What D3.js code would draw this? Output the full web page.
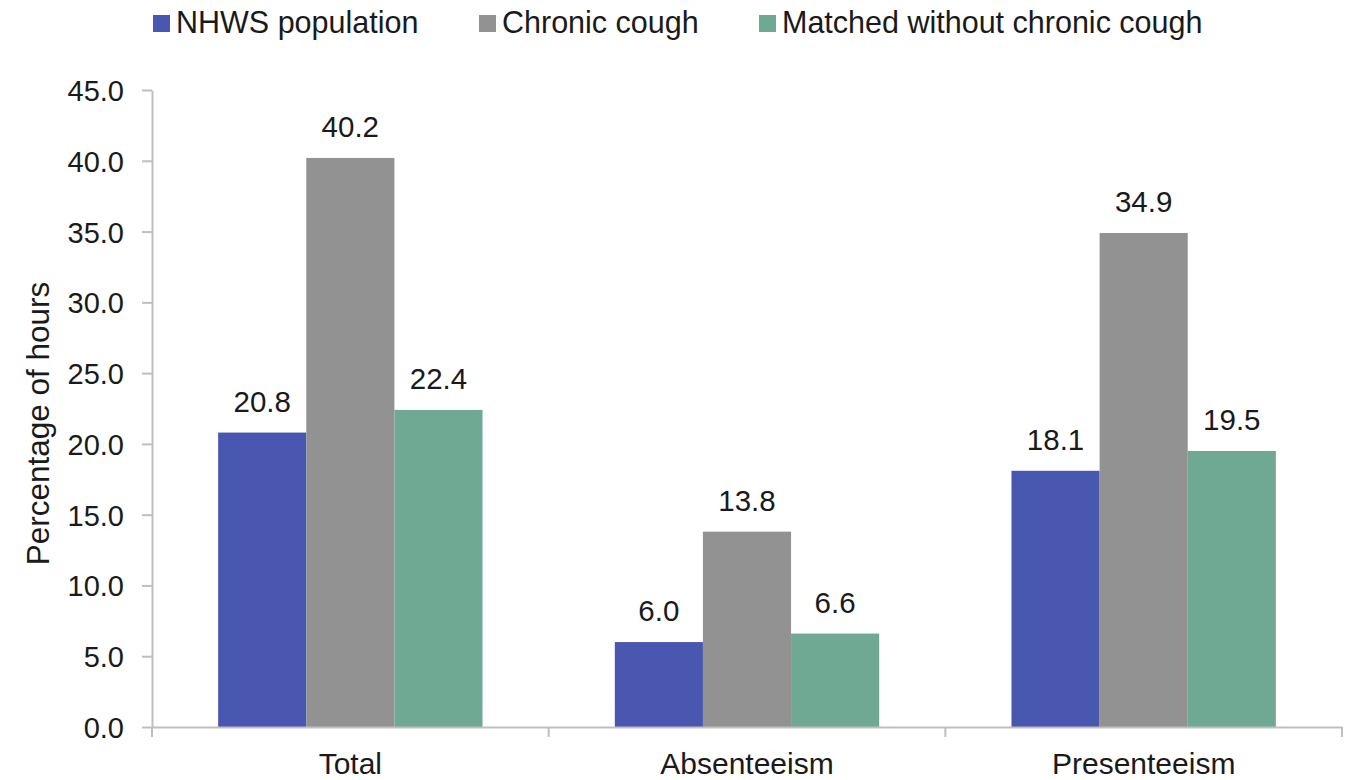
<!DOCTYPE html>
<html>
<head>
<meta charset="utf-8">
<script src="https://cdn.jsdelivr.net/npm/d3@7"></script>
<style>
    body { margin: 0; background: #fff; }
    svg { display: block; font-family: "Liberation Sans", Arial, sans-serif; }
    .axis path, .axis line { stroke: #bfbfbf; stroke-width: 2; }
    .axis text { fill: #1a1a1a; font-size: 29px; }
    .x-axis text { font-size: 30px; }
</style>
</head>
<body>
<div id="chart"></div>
<script>
// data
const categories = ['Total', 'Absenteeism', 'Presenteeism'];
const seriesNames = ['NHWS population', 'Chronic cough', 'Matched without chronic cough'];
const nhwsValues = [20.8, 6.0, 18.1];
const coughValues = [40.2, 13.8, 34.9];
const matchedValues = [22.4, 6.6, 19.5];
const yTicks = [0, 5, 10, 15, 20, 25, 30, 35, 40, 45];
const colors = ['#4957b1', '#929292', '#6fa893'];

const width = 1347;
const height = 780;

const svg = d3.select('#chart')
    .append('svg')
    .attr('width', width)
    .attr('height', height);

// scales
const x = d3.scaleBand()
    .domain(categories)
    .range([152, 1342])
    .paddingInner(0.3335)
    .paddingOuter(0.3335 / 2);

const x1 = d3.scaleBand()
    .domain(seriesNames)
    .range([0, x.bandwidth()]);

const y = d3.scaleLinear()
    .domain([0, 45])
    .range([727, 90]);

// y axis
const yAxis = d3.axisLeft(y)
    .tickValues(yTicks)
    .tickFormat(d3.format('.1f'))
    .tickSize(10)
    .tickSizeOuter(0)
    .tickPadding(18);

svg.append('g')
    .attr('class', 'axis y-axis')
    .attr('transform', 'translate(152,0)')
    .call(yAxis)
    .call(g => g.selectAll('text').attr('dy', '0.36em'));

svg.append('text')
    .attr('transform', `translate(49, ${y(22.5) + 15}) rotate(-90)`)
    .attr('text-anchor', 'middle')
    .attr('font-size', 31.5)
    .attr('fill', '#1a1a1a')
    .text('Percentage of hours');

// bars
const rows = categories.map((c, i) => ({
    cat: c,
    vals: [nhwsValues[i], coughValues[i], matchedValues[i]]
}));

const groups = svg.selectAll('.cat')
    .data(rows)
    .enter()
    .append('g')
    .attr('class', 'cat')
    .attr('transform', d => `translate(${x(d.cat)},0)`);

groups.selectAll('rect')
    .data(d => d.vals.map((v, j) => ({ name: seriesNames[j], v: v, j: j })))
    .enter()
    .append('rect')
    .attr('x', d => x1(d.name))
    .attr('y', d => y(d.v))
    .attr('width', x1.bandwidth())
    .attr('height', d => y(0) - y(d.v))
    .attr('fill', d => colors[d.j]);

groups.selectAll('.val')
    .data(d => d.vals.map((v, j) => ({ name: seriesNames[j], v: v })))
    .enter()
    .append('text')
    .attr('class', 'val')
    .attr('x', d => x1(d.name) + x1.bandwidth() / 2)
    .attr('y', d => y(d.v) - 21)
    .attr('text-anchor', 'middle')
    .attr('font-size', 29.5)
    .attr('fill', '#1a1a1a')
    .text(d => d3.format('.1f')(d.v));

// x axis
const xAxis = d3.axisBottom(x).tickSize(0).tickSizeOuter(0);

const gx = svg.append('g')
    .attr('class', 'axis x-axis')
    .attr('transform', `translate(0,${y(0)})`)
    .call(xAxis);

gx.selectAll('text').attr('y', 47).attr('dy', 0);

// boundary ticks between categories
const bounds = d3.range(categories.length + 1).map(i => x.range()[0] + i * x.step());
gx.selectAll('.bound')
    .data(bounds)
    .enter()
    .append('line')
    .attr('class', 'bound')
    .attr('x1', d => d)
    .attr('x2', d => d)
    .attr('y1', 0)
    .attr('y2', 10);

// legend
const legendX = [153, 479, 759];
const legend = svg.selectAll('.legend')
    .data(seriesNames)
    .enter()
    .append('g')
    .attr('class', 'legend')
    .attr('transform', (d, i) => `translate(${legendX[i]},0)`);

legend.append('rect')
    .attr('x', 0)
    .attr('y', 15)
    .attr('width', 17)
    .attr('height', 17)
    .attr('fill', (d, i) => colors[i]);

legend.append('text')
    .attr('x', 23)
    .attr('y', 33)
    .attr('font-size', 30.5)
    .attr('fill', '#1a1a1a')
    .text(d => d);
</script>
</body>
</html>
